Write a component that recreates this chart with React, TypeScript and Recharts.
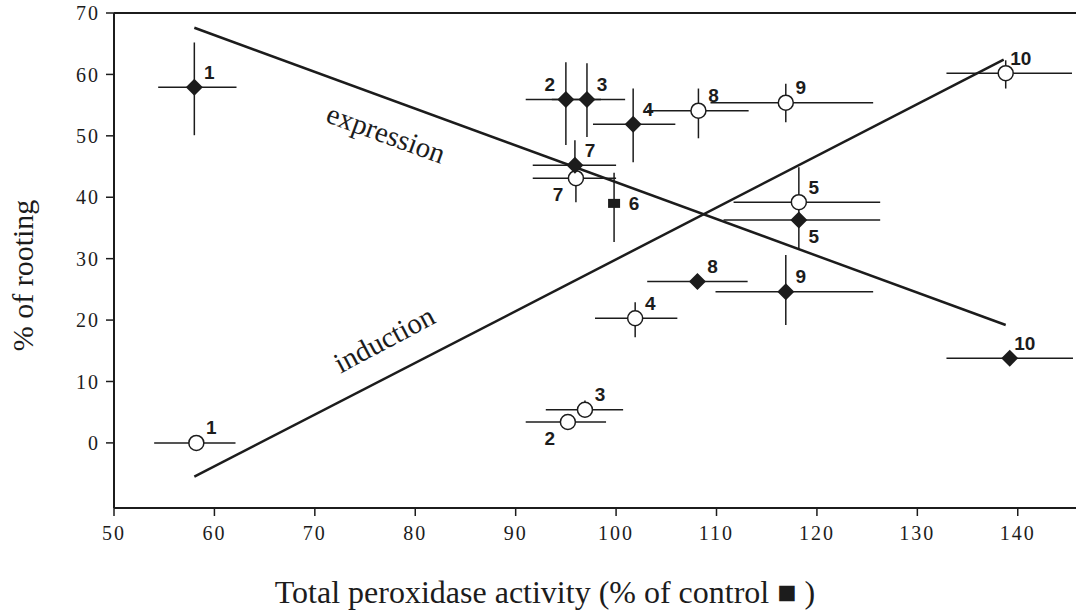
import React from 'react';
import {
  ScatterChart, Scatter, XAxis, YAxis, ErrorBar, ReferenceLine, ReferenceDot, LabelList,
} from 'recharts';

// Expression (filled diamonds)
const filledLabels = ['1', '2', '3', '4', '5', '7', '8', '9', '10'];
const filledX = [58, 95.0, 97.1, 101.7, 118.2, 95.9, 108.1, 116.9, 139.2];
const filledY = [57.9, 55.9, 55.9, 51.9, 36.3, 45.2, 26.3, 24.6, 13.8];
const filledXErr = [[3.6, 4.2], [4, 3.5], [3.5, 3.8], [4, 4.2], [7.5, 8.1], [4.2, 4.1], [5, 5], [7, 8.7], [6.3, 6.3]];
const filledYErr = [[7.8, 7.3], [7.4, 6.1], [6.1, 5.9], [6.2, 5.8], [4.9, 2.9], [0, 4.1], [1.2, 1.2], [5.4, 6.0], [1, 1]];
const filledDir = ['ne', 'nw', 'ne', 'ne', 'se', 'ne', 'ne', 'ne', 'ne'];

// Induction (open circles)
const openLabels = ['1', '2', '3', '4', '5', '7', '8', '9', '10'];
const openX = [58.2, 95.2, 96.9, 101.9, 118.2, 96.0, 108.2, 116.9, 138.8];
const openY = [0, 3.4, 5.4, 20.3, 39.2, 43.1, 54.1, 55.4, 60.2];
const openXErr = [[4.2, 3.9], [4.2, 3.8], [3.9, 3.8], [4, 4.2], [6.5, 8.1], [4.3, 4], [5.1, 5], [7.5, 8.7], [5.9, 6.6]];
const openYErr = [[0, 0], [1.2, 0], [0, 1.5], [3.1, 2.6], [0, 5.7], [3.9, 0], [4.5, 3.6], [3.2, 3.1], [2.5, 2.1]];
const openDir = ['ne', 'sw', 'ne', 'ne', 'ne', 'sw', 'ne', 'ne', 'ne'];

// Control (square)
const controlLabels = ['6'];
const controlX = [99.8];
const controlY = [39.0];
const controlYErr = [[6.3, 5]];
const controlDir = ['e'];

// Regression lines
const expressionLine = [{ x: 58, y: 67.6 }, { x: 138.8, y: 19.2 }];
const inductionLine = [{ x: 58, y: -5.5 }, { x: 138.6, y: 62.4 }];

const xTicks = [50, 60, 70, 80, 90, 100, 110, 120, 130, 140];
const yTicks = [0, 10, 20, 30, 40, 50, 60, 70];

const xTitle = 'Total peroxidase activity (% of control \u25A0 )';
const yTitle = '% of rooting';

const INK = '#1c1c1c';
const SERIF = "'Liberation Serif', 'Times New Roman', serif";

const filledData = filledX.map((x, i) => ({ x, y: filledY[i], ex: filledXErr[i], ey: filledYErr[i], label: filledLabels[i] }));
const openData = openX.map((x, i) => ({ x, y: openY[i], ex: openXErr[i], ey: openYErr[i], label: openLabels[i] }));
const controlData = controlX.map((x, i) => ({ x, y: controlY[i], ex: [0, 0], ey: controlYErr[i], label: controlLabels[i] }));

const offsets: Record<string, [number, number]> = {
  ne: [15, -15],
  nw: [-16, -15],
  sw: [-18, 16],
  se: [15, 17],
  e: [20, 0],
};

const makeLabel = (dirs: string[]) => (props: any) => {
  const { x, y, width, height, value, index } = props;
  const cx = x + (width || 0) / 2;
  const cy = y + (height || 0) / 2;
  const [dx, dy] = offsets[dirs[index]] || [15, -15];
  return (
    <text
      x={cx + dx}
      y={cy + dy}
      textAnchor="middle"
      dominantBaseline="central"
      fontFamily="'Liberation Sans Narrow', 'Liberation Sans', Arial, sans-serif"
      fontWeight="bold"
      fontSize={19}
      fill={INK}
    >
      {value}
    </text>
  );
};

const Diamond = (props: any) => {
  const { cx, cy } = props;
  const s = 8.5;
  return <path d={`M${cx},${cy - s}L${cx + s},${cy}L${cx},${cy + s}L${cx - s},${cy}Z`} fill={INK} />;
};

const OpenCircle = (props: any) => {
  const { cx, cy } = props;
  return <circle cx={cx} cy={cy} r={7.5} fill="#fff" stroke={INK} strokeWidth={1.5} />;
};

const Square = (props: any) => {
  const { cx, cy } = props;
  return <rect x={cx - 6} y={cy - 4.5} width={12} height={9} fill={INK} />;
};

const rotatedText = (text: string, angle: number) => (props: any) => {
  const vb = props.viewBox || {};
  const x = vb.x + (vb.width || 0) / 2;
  const y = vb.y + (vb.height || 0) / 2;
  return (
    <text
      x={x}
      y={y}
      textAnchor="middle"
      dominantBaseline="central"
      transform={`rotate(${angle}, ${x}, ${y})`}
      fontFamily={SERIF}
      fontSize={29}
      fill={INK}
    >
      {text}
    </text>
  );
};

const XTitle = (props: any) => {
  const vb = props.viewBox || {};
  const x = vb.x + vb.width / 2 - 50;
  const y = vb.y + vb.height - 7;
  return (
    <text x={x} y={y} textAnchor="middle" fontFamily={SERIF} fontSize={32} fill={INK}>
      {xTitle}
    </text>
  );
};

const YTitle = (props: any) => {
  const vb = props.viewBox || {};
  const x = vb.x + 14;
  const y = vb.y + vb.height / 2 + 15;
  return (
    <text
      x={x}
      y={y}
      textAnchor="middle"
      dominantBaseline="central"
      transform={`rotate(-90, ${x}, ${y})`}
      fontFamily={SERIF}
      fontSize={30}
      fill={INK}
    >
      {yTitle}
    </text>
  );
};

const tickStyle = {
  fontFamily: SERIF,
  fontSize: 20,
  fill: INK,
  letterSpacing: 2,
};

export default function App() {
  return (
    <div style={{ position: 'absolute', left: 0, top: 0, width: 1076, height: 614, background: '#fff' }}>
      <ScatterChart width={1076} height={614} margin={{ top: 13, right: 0, bottom: 4, left: 8 }}>
        <XAxis
          type="number"
          dataKey="x"
          domain={[50, 145.8]}
          ticks={xTicks}
          allowDataOverflow
          height={102}
          tickSize={8}
          tickMargin={10}
          axisLine={{ stroke: INK, strokeWidth: 2 }}
          tickLine={{ stroke: INK, strokeWidth: 1.5 }}
          tick={tickStyle}
          label={{ content: XTitle }}
        />
        <YAxis
          type="number"
          dataKey="y"
          domain={[-10.6, 70]}
          ticks={yTicks}
          allowDataOverflow
          width={106}
          tickSize={8}
          tickMargin={6}
          axisLine={{ stroke: INK, strokeWidth: 2 }}
          tickLine={{ stroke: INK, strokeWidth: 1.5 }}
          tick={tickStyle}
          label={{ content: YTitle }}
        />
        <ReferenceLine y={70} stroke={INK} strokeWidth={2} />
        <ReferenceLine segment={expressionLine} stroke={INK} strokeWidth={2.5} />
        <ReferenceLine segment={inductionLine} stroke={INK} strokeWidth={2.5} />
        <ReferenceDot x={77.1} y={50.4} r={0} fill="none" stroke="none" label={{ content: rotatedText('expression', 20) }} />
        <ReferenceDot x={76.9} y={16.9} r={0} fill="none" stroke="none" label={{ content: rotatedText('induction', -28) }} />

        <Scatter data={openData} shape={OpenCircle} isAnimationActive={false}>
          <ErrorBar dataKey="ex" direction="x" width={0} stroke={INK} strokeWidth={1.5} isAnimationActive={false} />
          <ErrorBar dataKey="ey" direction="y" width={0} stroke={INK} strokeWidth={1.5} isAnimationActive={false} />
          <LabelList dataKey="label" content={makeLabel(openDir)} />
        </Scatter>
        <Scatter data={filledData} shape={Diamond} isAnimationActive={false}>
          <ErrorBar dataKey="ex" direction="x" width={0} stroke={INK} strokeWidth={1.5} isAnimationActive={false} />
          <ErrorBar dataKey="ey" direction="y" width={0} stroke={INK} strokeWidth={1.5} isAnimationActive={false} />
          <LabelList dataKey="label" content={makeLabel(filledDir)} />
        </Scatter>
        <Scatter data={controlData} shape={Square} isAnimationActive={false}>
          <ErrorBar dataKey="ey" direction="y" width={0} stroke={INK} strokeWidth={1.5} isAnimationActive={false} />
          <LabelList dataKey="label" content={makeLabel(controlDir)} />
        </Scatter>
      </ScatterChart>
    </div>
  );
}
